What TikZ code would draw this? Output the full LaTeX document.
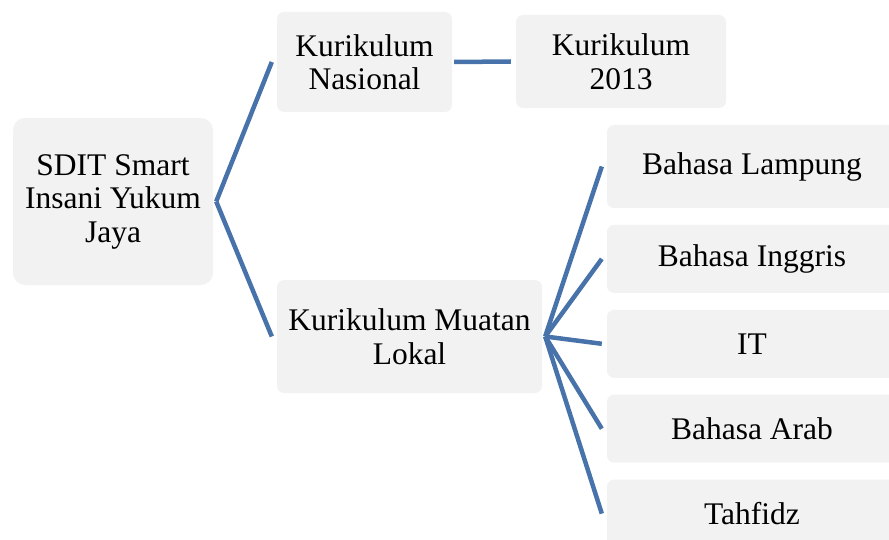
\documentclass[tikz,border=0pt]{standalone}
\usepackage{fontspec}
\setmainfont{Liberation Serif}
\usetikzlibrary{positioning}
\definecolor{boxgray}{RGB}{242,242,242}
\definecolor{linkblue}{RGB}{72,114,170}

\begin{document}
\begin{tikzpicture}[
    x=1pt, y=-1pt,
    box/.style={rectangle, rounded corners=7pt, fill=boxgray,
                inner sep=0pt, align=center,
                font=\fontsize{31.5}{33.5}\selectfont},
    link/.style={line width=4.5pt, linkblue},
    node distance=16.5pt
]
\useasboundingbox (0,0) rectangle (889,540);
\clip (0,0) rectangle (889,540);
\node[box, rounded corners=12pt, minimum width=200pt, minimum height=167pt]
    (root) at (113,201.5) {SDIT Smart\\Insani Yukum\\Jaya};
\node[box, minimum width=175pt, minimum height=100pt]
    (nasional) at (364.5,62) {Kurikulum\\Nasional};
\node[box, minimum width=210pt, minimum height=93pt]
    (k13) at (621,61.5) {Kurikulum\\2013};
\node[box, minimum width=265pt, minimum height=113pt]
    (lokal) at (409.5,336.5) {Kurikulum Muatan\\Lokal};
\node[box, minimum width=290pt, minimum height=83pt]
    (lampung) at (752,166.5) {Bahasa Lampung};
\node[box, minimum width=290pt, minimum height=68pt, below=of lampung] (inggris) {Bahasa Inggris};
\node[box, minimum width=290pt, minimum height=68pt, below=of inggris]  (it) {IT};
\node[box, minimum width=290pt, minimum height=68pt, below=of it]       (arab) {Bahasa Arab};
\node[box, minimum width=290pt, minimum height=68pt, below=of arab]     (tahfidz) {Tahfidz};
% connectors
\draw[link] ([xshift=3pt]root.east) -- ([xshift=-5pt]nasional.west);
\draw[link] ([xshift=3pt]root.east) -- ([xshift=-5pt]lokal.west);
\draw[link] ([xshift=2pt]nasional.east) -- ([xshift=-5pt]k13.west);
\foreach \c in {lampung, inggris, it, arab, tahfidz}
    \draw[link] ([xshift=3pt]lokal.east) -- ([xshift=-5pt]\c.west);
\end{tikzpicture}
\end{document}
